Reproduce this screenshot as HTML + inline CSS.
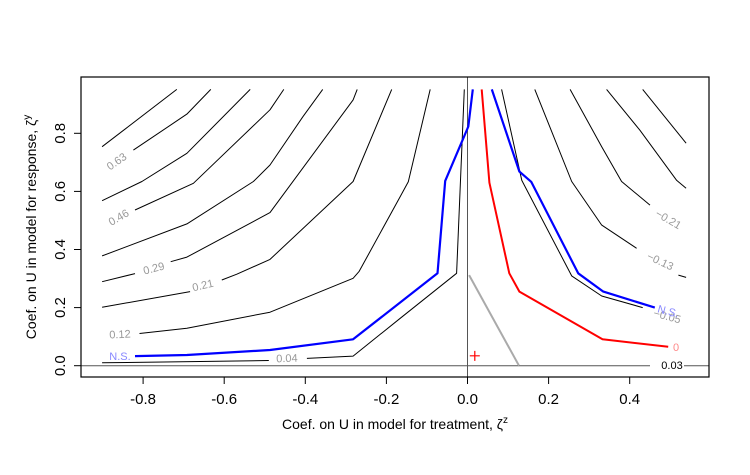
<!DOCTYPE html>
<html><head><meta charset="utf-8"><style>
html,body{margin:0;padding:0;background:#fff;}
svg{display:block;font-family:"Liberation Sans",Arial,sans-serif;}
</style></head><body>
<svg id="chart" width="750" height="475" viewBox="0 0 750 475">
<rect x="0" y="0" width="750" height="475" fill="#fff"/>
<g id="plot"></g>
<rect x="81" y="77" width="628" height="300" fill="none" stroke="#000" stroke-width="1.2"/>
<g id="axes"></g>
<text x="395" y="429" font-size="14" text-anchor="middle">Coef. on U in model for treatment, ζ<tspan dy="-6" font-size="10">z</tspan></text>
<text transform="translate(36,227) rotate(-90)" font-size="14" text-anchor="middle">Coef. on U in model for response, ζ<tspan dy="-6" font-size="10">y</tspan></text>
</svg>
<script>
const xTicks = [-0.8, -0.6, -0.4, -0.2, 0.0, 0.2, 0.4];
const xTickLabels = ["-0.8","-0.6","-0.4","-0.2","0.0","0.2","0.4"];
const yTicks = [0.0, 0.2, 0.4, 0.6, 0.8];
const yTickLabels = ["0.0","0.2","0.4","0.6","0.8"];

const line1 = [[-0.901,0.754],[-0.717,0.951]];
const line063 = [[-0.824,0.742],[-0.692,0.866],[-0.633,0.951]];
const line3 = [[-0.901,0.568],[-0.803,0.634],[-0.692,0.731],[-0.536,0.951]];
const line046 = [[-0.820,0.536],[-0.676,0.628],[-0.487,0.881],[-0.453,0.951]];
const line5 = [[-0.901,0.378],[-0.692,0.488],[-0.528,0.634],[-0.487,0.691],[-0.406,0.857],[-0.357,0.951]];
const line029a = [[-0.901,0.289],[-0.820,0.317]];
const line029b = [[-0.732,0.358],[-0.692,0.374],[-0.487,0.527],[-0.282,0.915],[-0.272,0.951]];
const line021a = [[-0.901,0.201],[-0.684,0.255]];
const line021b = [[-0.606,0.295],[-0.569,0.315],[-0.487,0.366],[-0.282,0.634],[-0.187,0.951]];
const line012 = [[-0.809,0.111],[-0.692,0.129],[-0.487,0.184],[-0.282,0.301],[-0.267,0.325],[-0.166,0.582],[-0.146,0.633],[-0.092,0.951]];
const line004a = [[-0.901,0.010],[-0.490,0.018]];
const line004b = [[-0.396,0.025],[-0.282,0.033],[-0.166,0.163],[-0.027,0.318],[-0.008,0.951]];
const lineR005 = [[0.084,0.951],[0.134,0.638],[0.257,0.309],[0.331,0.240],[0.432,0.200]];
const lineR013a = [[0.166,0.951],[0.257,0.634],[0.331,0.484],[0.417,0.404]];
const lineR013b = [[0.520,0.312],[0.539,0.304]];
const lineR021 = [[0.253,0.951],[0.331,0.754],[0.380,0.634],[0.450,0.553]];
const lineR4 = [[0.343,0.951],[0.425,0.811],[0.516,0.638],[0.539,0.611]];
const lineR5 = [[0.432,0.951],[0.539,0.766]];
const blueLeft = [[-0.820,0.033],[-0.692,0.037],[-0.487,0.054],[-0.282,0.091],[-0.074,0.318],[-0.055,0.636],[0.002,0.823],[0.013,0.951]];
const blueRight = [[0.060,0.951],[0.128,0.668],[0.157,0.633],[0.273,0.318],[0.335,0.255],[0.462,0.200]];
const redLine = [[0.035,0.951],[0.054,0.630],[0.103,0.318],[0.128,0.255],[0.333,0.091],[0.495,0.065]];
const greyLine = [[0.004,0.312],[0.127,0.0]];
const plusPoint = [0.018,0.034];

function sx(v){return 467.5 + v*405.5;}
function sy(v){return 365.7 - v*290.5;}
const NS="http://www.w3.org/2000/svg";
const plot=document.getElementById('plot');
const axes=document.getElementById('axes');
function poly(pts,color,w,name){
  const p=document.createElementNS(NS,'polyline');
  p.setAttribute('points',pts.map(d=>sx(d[0]).toFixed(1)+','+sy(d[1]).toFixed(1)).join(' '));
  p.setAttribute('fill','none');p.setAttribute('stroke',color);p.setAttribute('stroke-width',w);
  p.setAttribute('stroke-linejoin','round');
  
  
  plot.appendChild(p);
}
function label(txt,x,y,ang,color,size,name){
  const t=document.createElementNS(NS,'text');
  t.setAttribute('x',x);t.setAttribute('y',y);t.setAttribute('font-size',size);
  t.setAttribute('fill',color);t.setAttribute('text-anchor','middle');t.setAttribute('dominant-baseline','central');
  t.setAttribute('transform','rotate('+ang+' '+x+' '+y+')');
  t.textContent=txt;
  
  
  plot.appendChild(t);
}
const hl=document.createElementNS(NS,'line');
hl.setAttribute('x1',81);hl.setAttribute('x2',709);hl.setAttribute('y1',sy(0));hl.setAttribute('y2',sy(0));
hl.setAttribute('stroke','#555');hl.setAttribute('stroke-width',1);


plot.appendChild(hl);
const vl=document.createElementNS(NS,'line');
vl.setAttribute('x1',sx(0));vl.setAttribute('x2',sx(0));vl.setAttribute('y1',77);vl.setAttribute('y2',377);
vl.setAttribute('stroke','#555');vl.setAttribute('stroke-width',1);


plot.appendChild(vl);

[[line1,'contour-1'],[line063,'contour-0.63'],[line3,'contour-3'],[line046,'contour-0.46'],[line5,'contour-5'],
 [line029a,'contour-0.29-a'],[line029b,'contour-0.29-b'],[line021a,'contour-0.21-a'],[line021b,'contour-0.21-b'],
 [line012,'contour-0.12'],[line004a,'contour-0.04-a'],[line004b,'contour-0.04-b'],[lineR005,'contour-neg-0.05'],
 [lineR013a,'contour-neg-0.13-a'],[lineR013b,'contour-neg-0.13-b'],[lineR021,'contour-neg-0.21'],[lineR4,'contour-r4'],[lineR5,'contour-r5']
].forEach(a=>poly(a[0],'#000',1,a[1]));
poly(greyLine,'#aaa',2,'grey-contour');
poly(redLine,'#f00',2,'red-zero-contour');
poly(blueLeft,'#00f',2.2,'blue-ns-contour-left');
poly(blueRight,'#00f',2.2,'blue-ns-contour-right');

label('0.63',117,162,-35,'#999',11,'label-0.63');
label('0.46',119,218,-30,'#999',11,'label-0.46');
label('0.29',154,269,-15,'#999',11,'label-0.29');
label('0.21',203,286,-13,'#999',11,'label-0.21');
label('0.12',120,335,-3,'#999',11,'label-0.12');
label('0.04',287,359,-2,'#999',11,'label-0.04');
label('N.S.',120,357,0,'#88f',11,'label-ns-left');
label('\u22120.21',668,220,30,'#999',11,'label-neg-0.21');
label('\u22120.13',660,262,25,'#999',11,'label-neg-0.13');
label('\u22120.05',667,317,15,'#999',11,'label-neg-0.05');
label('N.S.',668,312,15,'#88f',11,'label-ns-right');
label('0',676,348,0,'#f88',11,'label-red-0');
const bg=document.createElementNS(NS,'rect');
bg.setAttribute('x',650);bg.setAttribute('y',359);bg.setAttribute('width',34);bg.setAttribute('height',14);bg.setAttribute('fill','#fff');


plot.appendChild(bg);
label('0.03',672,366,0,'#000',11,'label-0.03');
const px=sx(plusPoint[0]),py=sy(plusPoint[1]);
const pl=document.createElementNS(NS,'path');
pl.setAttribute('d','M'+(px-5)+' '+py+'H'+(px+5)+'M'+px+' '+(py-5)+'V'+(py+5));
pl.setAttribute('stroke','#f00');pl.setAttribute('stroke-width',1.2);


plot.appendChild(pl);

xTicks.forEach((v,i)=>{
  const l=document.createElementNS(NS,'line');
  l.setAttribute('x1',sx(v));l.setAttribute('x2',sx(v));l.setAttribute('y1',377);l.setAttribute('y2',384);l.setAttribute('stroke','#000');
  
  
  axes.appendChild(l);
  const t=document.createElementNS(NS,'text');
  t.setAttribute('x',sx(v));t.setAttribute('y',404);t.setAttribute('font-size',15);t.setAttribute('text-anchor','middle');
  t.textContent=xTickLabels[i];
  
  
  axes.appendChild(t);
});
yTicks.forEach((v,i)=>{
  const l=document.createElementNS(NS,'line');
  l.setAttribute('x1',74);l.setAttribute('x2',81);l.setAttribute('y1',sy(v));l.setAttribute('y2',sy(v));l.setAttribute('stroke','#000');
  
  
  axes.appendChild(l);
  const t=document.createElementNS(NS,'text');
  t.setAttribute('x',0);t.setAttribute('y',0);t.setAttribute('font-size',15);t.setAttribute('text-anchor','middle');
  t.setAttribute('transform','translate(65,'+sy(v)+') rotate(-90)');
  t.textContent=yTickLabels[i];
  
  
  axes.appendChild(t);
});
</script>
</body></html>
